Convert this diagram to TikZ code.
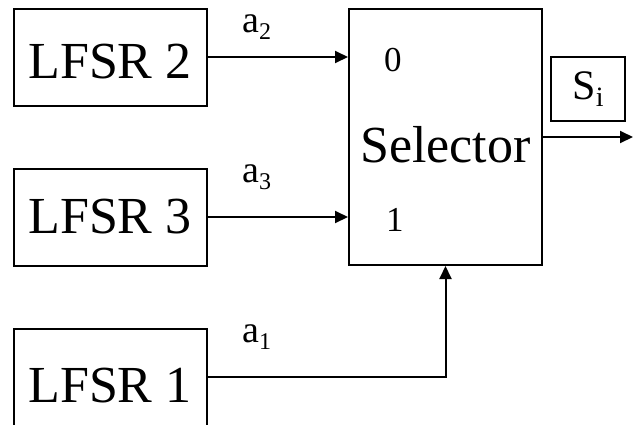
\documentclass[tikz,border=0pt]{standalone}
\usepackage{fontspec}
\setmainfont{Liberation Serif}
\usetikzlibrary{arrows.meta}

\newcommand{\lowsub}[2][24]{\raisebox{-7pt}{\fontsize{#1}{#1}\selectfont #2}}

\begin{document}
\begin{tikzpicture}[x=1pt, y=-1pt,
  box/.style={draw, line width=2pt, inner sep=0pt},
  big/.style={font=\fontsize{52}{52}\selectfont},
  wire/.style={line width=2pt, -{Triangle[length=13pt, width=12pt]}},
  lbl/.style={font=\fontsize{38}{38}\selectfont, inner sep=0pt, anchor=base west}]

\useasboundingbox (0,0) rectangle (633,424);

\def\xl{110}; % lfsr column
\def\xs{445.5}; % selector
\def\xlbl{242}; % wire labels

\def\ytwo{57};
\def\ythree{217};
\def\yone{377};

% lfsr boxes
\node[box, big, minimum width=193pt, minimum height=97pt, text height=42pt, text depth=0pt] (lfsrtwo) at (\xl, \ytwo) {LFSR 2};
\node[box, big, minimum width=193pt, minimum height=97pt] (lfsrthree) at (\xl, \ythree) {LFSR 3};
\node[box, big, minimum width=193pt, minimum height=97pt, text height=50pt, text depth=0pt] (lfsrone) at (\xl, \yone) {LFSR 1};

% selector
\node[box, big, minimum width=193pt, minimum height=256pt, text height=50pt, text depth=0pt] (sel) at (\xs, 137) {Selector};
\node[lbl, font=\fontsize{35}{35}\selectfont] (pzero) at (384, 71) {0};
\node[lbl, font=\fontsize{35}{35}\selectfont] (pone) at (386, 231) {1};

% wires
\draw[wire] (lfsrtwo.east) -- (lfsrtwo.east -| sel.west);
\draw[wire] (lfsrthree.east) -- (lfsrthree.east -| sel.west);
\draw[wire] (lfsrone.east) -| (sel.south);

\node[lbl] (atwo) at (\xlbl, 32) {a\lowsub{2}};
\node[lbl] (athree) at (\xlbl, 182) {a\lowsub{3}};
\node[lbl] (aone) at (\xlbl, 342) {a\lowsub{1}};

% output
\coordinate (out) at (633, 137);
\draw[wire] (sel.east) -- (out);
\node[box, minimum width=74pt, minimum height=64pt, font=\fontsize{42}{42}\selectfont] (si) at (588, 89) {S\lowsub[28]{i}};

\end{tikzpicture}
\end{document}
